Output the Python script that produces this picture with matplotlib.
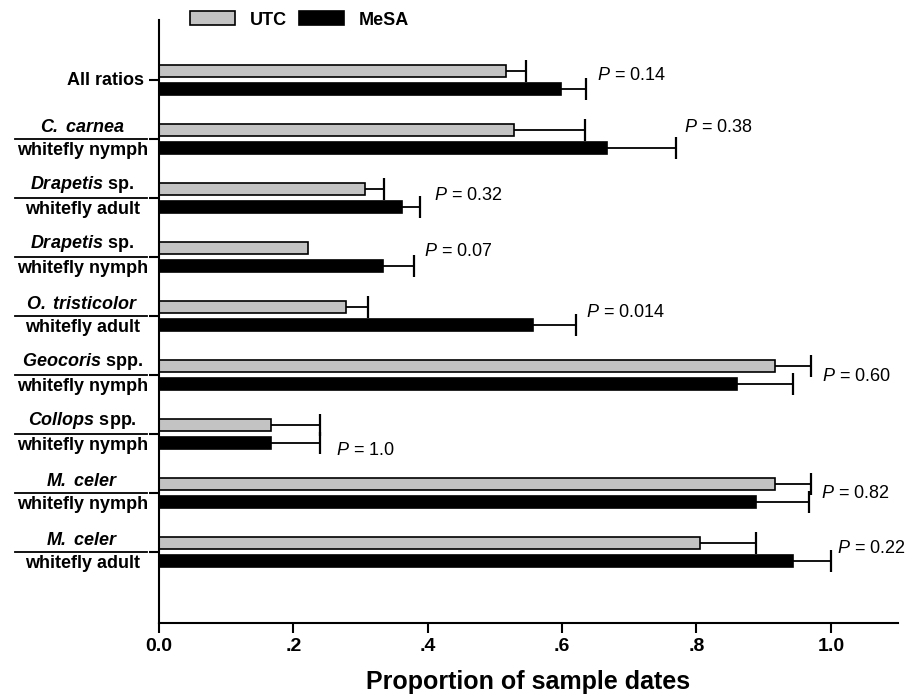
import matplotlib
matplotlib.use("Agg")
import matplotlib.pyplot as plt
import numpy as np

plt.rcParams['font.family'] = ['Liberation Sans', 'DejaVu Sans']
plt.rcParams['mathtext.fontset'] = 'custom'
plt.rcParams['mathtext.rm'] = 'Liberation Sans'
plt.rcParams['mathtext.it'] = 'Liberation Sans:italic'
plt.rcParams['mathtext.bf'] = 'Liberation Sans:bold'
plt.rcParams['mathtext.bfit'] = 'Liberation Sans:bold:italic'

# data
species = [r"All ratios",
           r"$\mathbfit{C.\;carnea}$",
           r"$\mathbfit{Drapetis}$ sp.",
           r"$\mathbfit{Drapetis}$ sp.",
           r"$\mathbfit{O.\;tristicolor}$",
           r"$\mathbfit{Geocoris}$ spp.",
           r"$\mathbfit{Collops}$ spp.",
           r"$\mathbfit{M.\;celer}$",
           r"$\mathbfit{M.\;celer}$"]
prey = [None, "whitefly nymph", "whitefly adult", "whitefly nymph", "whitefly adult",
        "whitefly nymph", "whitefly nymph", "whitefly nymph", "whitefly adult"]

utc = [0.517, 0.528, 0.306, 0.222, 0.278, 0.917, 0.167, 0.917, 0.806]
utc_err = [0.029, 0.106, 0.029, 0.0, 0.033, 0.053, 0.072, 0.053, 0.082]
mesa = [0.598, 0.667, 0.361, 0.333, 0.556, 0.861, 0.167, 0.889, 0.944]
mesa_err = [0.038, 0.102, 0.028, 0.046, 0.064, 0.083, 0.072, 0.079, 0.056]

p_labels = ["0.14", "0.38", "0.32", "0.07", "0.014", "0.60", "1.0", "0.82", "0.22"]
p_x = [0.652, 0.781, 0.409, 0.395, 0.635, 0.987, 0.264, 0.985, 1.009]
p_y = [-0.085, 0.80, 1.96, 2.90, 3.93, 5.02, 6.27, 7.0, 7.93]

fig = plt.figure(figsize=(9.09, 6.98), dpi=100)
ax = fig.add_axes([159 / 909, 75 / 698, 739 / 909, 603 / 698])

y = np.arange(len(utc))
h = 0.2
series = [(y - 0.15, utc, utc_err, '#c3c3c3', 'UTC'),
          (y + 0.15, mesa, mesa_err, 'black', 'MeSA')]
for yy, vals, errs, col, lab in series:
    vals = np.array(vals)
    errs = np.array(errs)
    ax.barh(yy, vals, height=h, color=col, edgecolor='black', linewidth=1.2, label=lab, zorder=2)
    # one-sided error bars: line from bar end plus a cap at the tip
    m = errs > 0
    ax.hlines(yy[m], vals[m], vals[m] + errs[m], color='black', lw=1.3, zorder=1)
    ax.plot(vals[m] + errs[m], yy[m], linestyle='none', marker='|', markersize=16,
            markeredgewidth=1.6, color='black', zorder=1)

for px, py, lab in zip(p_x, p_y, p_labels):
    ax.text(px, py, r"$P$ = " + lab, fontsize=13, ha='left', va='center')

ax.set_xlim(0, 1.10)
ax.set_ylim(9.2, -1.02)
ax.set_xticks([0, 0.2, 0.4, 0.6, 0.8, 1.0])
ax.set_xticklabels(["0.0", ".2", ".4", ".6", ".8", "1.0"], fontsize=14, fontweight='bold')
ax.set_yticks(y)
ax.set_yticklabels([])
ax.tick_params(axis='both', direction='out', length=7, width=1.5, color='black')
ax.tick_params(axis='x', pad=4)
for s in ['top', 'right']:
    ax.spines[s].set_visible(False)
for s in ['left', 'bottom']:
    ax.spines[s].set_linewidth(1.5)

ax.set_xlabel("Proportion of sample dates", fontsize=18, fontweight='bold', va='center')
ax.xaxis.set_label_coords(0.5, -0.098)

# category labels with divider line
yt = ax.get_yaxis_transform()
for i in range(len(species)):
    if prey[i] is None:
        ax.text(-0.02, y[i], species[i], transform=yt, fontsize=13, fontweight='bold',
                ha='right', va='center')
        continue
    ax.plot([-0.195, -0.016], [y[i], y[i]], transform=yt, color='black', lw=1.3, clip_on=False)
    ax.text(-0.104, y[i] - 0.05, species[i], transform=yt, fontsize=13, fontweight='bold',
            ha='center', va='bottom')
    ax.text(-0.104, y[i] + 0.05, prey[i], transform=yt, fontsize=13, fontweight='bold',
            ha='center', va='top')

fig.legend(loc='center left', bbox_to_anchor=(190 / 909, 1 - 20 / 698), ncol=2, frameon=False,
           borderpad=0, borderaxespad=0, handlelength=2.5, handleheight=0.8,
           handletextpad=0.8, columnspacing=0.7, prop={'weight': 'bold', 'size': 13})

fig.savefig("out.png", dpi=100)
